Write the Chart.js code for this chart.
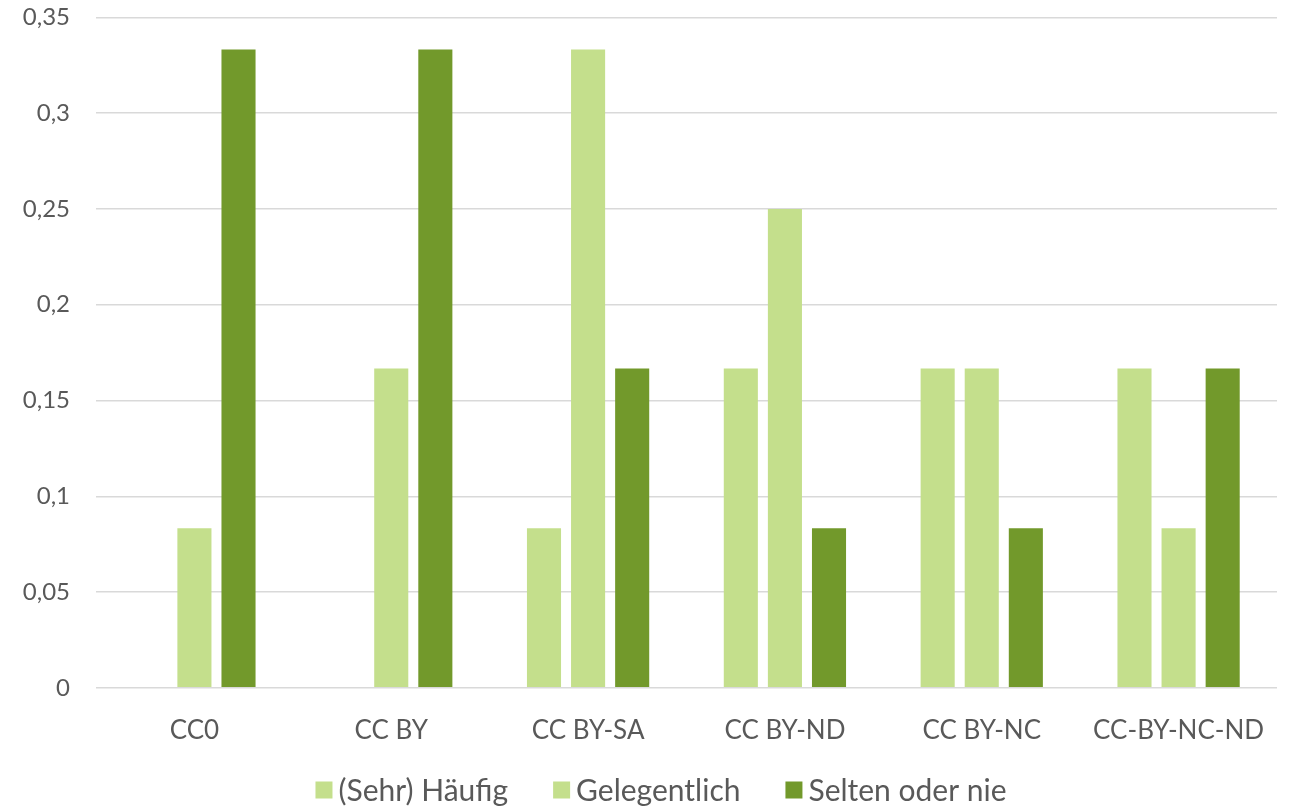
<!DOCTYPE html>
<html>
<head>
<meta charset="utf-8">
<script src="https://cdn.jsdelivr.net/npm/chart.js@4"></script>
<style>
  html, body { margin: 0; padding: 0; background: #ffffff; }
  #wrap { width: 1289px; height: 806px; }
</style>
</head>
<body>
<div id="wrap"><canvas id="c" width="1289" height="806"></canvas></div>
<script>
// License categories on the x axis
const categories = ['CC0', 'CC BY', 'CC BY-SA', 'CC BY-ND', 'CC BY-NC', 'CC-BY-NC-ND'];

// Share of answers per usage frequency
const haeufig      = [0,      0,      0.0833, 0.1667, 0.1667, 0.1667];
const gelegentlich = [0.0833, 0.1667, 0.3333, 0.25,   0.1667, 0.0833];
const selten       = [0.3333, 0.3333, 0.1667, 0.0833, 0.0833, 0.1667];

const seriesNames = ['(Sehr) Häufig', 'Gelegentlich', 'Selten oder nie'];

// Y axis tick labels, German decimal comma
const yTickLabels = ['0', '0,05', '0,1', '0,15', '0,2', '0,25', '0,3', '0,35'];

const LIGHT = '#C4DF8C';
const DARK = '#72992B';
const TEXT = '#595959';
const FONT = 'Lato, "Open Sans", sans-serif';

// Compact legend row under the axis: small square, short gap, label
const bottomLegend = {
  id: 'bottomLegend',
  afterDraw(chart, args, opts) {
    const ctx = chart.ctx;
    const items = chart.data.datasets.map(ds => ({ text: ds.label, color: ds.backgroundColor }));
    ctx.save();
    ctx.font = `${opts.fontSize}px ${FONT}`;
    ctx.textBaseline = 'middle';
    ctx.textAlign = 'left';
    const widths = items.map(it => opts.box + opts.gap + ctx.measureText(it.text).width);
    const total = widths.reduce((a, b) => a + b, 0) + opts.spacing * (items.length - 1);
    let x = opts.centerX - total / 2;
    const y = opts.y;
    items.forEach((it, i) => {
      ctx.fillStyle = it.color;
      ctx.fillRect(x, y - opts.box / 2, opts.box, opts.box);
      ctx.fillStyle = TEXT;
      ctx.fillText(it.text, x + opts.box + opts.gap, y + 1);
      x += widths[i] + opts.spacing;
    });
    ctx.restore();
  }
};

new Chart(document.getElementById('c'), {
  type: 'bar',
  data: {
    labels: categories,
    datasets: [
      { label: seriesNames[0], data: haeufig, backgroundColor: LIGHT },
      { label: seriesNames[1], data: gelegentlich, backgroundColor: LIGHT },
      { label: seriesNames[2], data: selten, backgroundColor: DARK }
    ]
  },
  plugins: [bottomLegend],
  options: {
    responsive: false,
    animation: false,
    devicePixelRatio: 1,
    layout: { padding: { left: 0, right: 12, top: 0, bottom: 33 } },
    datasets: {
      bar: { categoryPercentage: 0.672, barPercentage: 0.773, borderWidth: 0 }
    },
    scales: {
      x: {
        afterFit(scale) { scale.paddingLeft = 0; scale.paddingRight = 0; },
        grid: { display: false, drawTicks: false },
        border: { display: false },
        ticks: { color: TEXT, font: { family: FONT, size: 26 }, padding: 27 }
      },
      y: {
        min: 0,
        max: 0.35,
        afterFit(scale) { scale.width = 96; },
        border: { display: false },
        grid: {
          color: '#D9D9D9',
          lineWidth: 1.5,
          drawTicks: true,
          tickLength: 23,
          tickColor: 'rgba(0,0,0,0)'
        },
        ticks: {
          stepSize: 0.05,
          color: TEXT,
          padding: 3,
          font: { family: FONT, size: 24 },
          callback: (v, i) => yTickLabels[i]
        }
      }
    },
    plugins: {
      tooltip: { enabled: false },
      legend: { display: false },
      bottomLegend: { fontSize: 30, box: 17, gap: 6, spacing: 45, centerX: 661, y: 790 }
    }
  }
});
</script>
</body>
</html>
